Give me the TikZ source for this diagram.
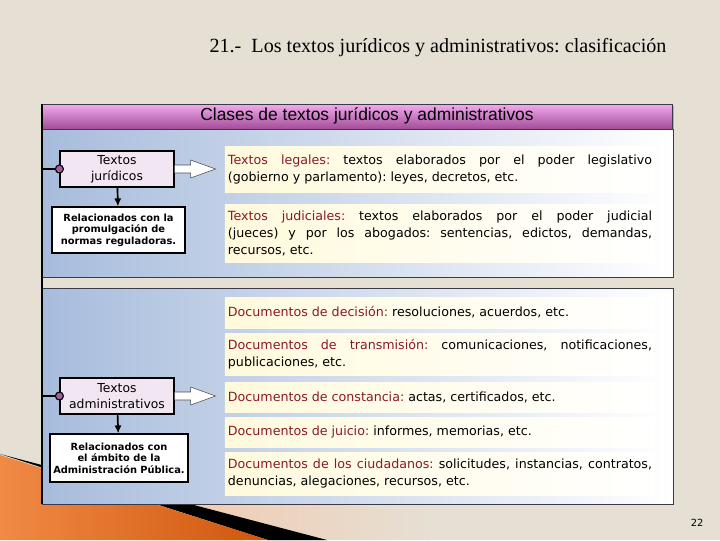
\documentclass[tikz,border=0pt]{standalone}
\usepackage{fontspec}
\newfontfamily\tahomaf{DejaVu Sans}
\newfontfamily\arialf{Liberation Sans}
\newfontfamily\timesf{Liberation Serif}
\usetikzlibrary{arrows.meta}
\frenchspacing

\definecolor{paper}{HTML}{E6DFD3}
\definecolor{swoosh}{HTML}{F08A45}
\definecolor{swooshdark}{HTML}{D0560C}
\definecolor{peach}{HTML}{F2C9AE}
\definecolor{panelblue}{HTML}{A7BCDC}
\definecolor{headtop}{HTML}{F2ABEE}
\definecolor{headbot}{HTML}{A24C98}
\definecolor{termred}{HTML}{8A1A2A}
\definecolor{cream}{HTML}{FFFADC}
\definecolor{lilac}{HTML}{F3E6F3}
\definecolor{knob}{HTML}{A45CA0}
\definecolor{framegray}{HTML}{3A3A48}

\newcommand{\termino}[1]{{\color{termred}#1}}

\tikzset{
  tipo/.style={draw, thick, fill=lilac, minimum width=2.85cm, minimum height=0.9cm,
    align=center, inner sep=0pt, font=\tahomaf\fontsize{8.8}{11.4}\selectfont},
  nota/.style={draw, thick, fill=white, align=center, inner sep=0pt,
    font=\tahomaf\bfseries\fontsize{7}{8.2}\selectfont},
  clase/.style={left color=cream, right color=white, text width=10.6cm, inner xsep=0.075cm,
    inner ysep=0pt, align=justify, font=\tahomaf\fontsize{9}{12}\selectfont},
  enlace/.style={draw, thick, fill=knob, circle, inner sep=0pt, minimum size=0.2cm},
  baja/.style={-{Latex[length=2mm,width=1.8mm]}, line width=1.2pt},
  hueca/.style={draw=gray!60!black, fill=white},
  panel/.style={draw=framegray, left color=panelblue, right color=white},
}

\begin{document}
\begin{tikzpicture}[x=0.025cm, y=-0.025cm]
    % Background
    \fill[paper] (0,0) rectangle (720,540);
    \useasboundingbox (0,0) rectangle (720,540);
    \shade[left color=peach, right color=paper] (150,490) -- (430,512) -- (430,540) -- (150,540) -- cycle;
    \fill[black] (0,454) -- (327,540) -- (268,540) -- cycle;
    \shade[left color=swoosh, right color=swooshdark] (0,455) -- (268,540) -- (0,540) -- cycle;

    % Title
    \node[font=\timesf\fontsize{14.3}{17}\selectfont] (titulo) at (438,48)
        {21.-\ \ Los textos jurídicos y administrativos: clasificación};

    % Header bar and panels
    \fill[gray!60] (44,106) rectangle (674,131);
    \shade[top color=headtop, bottom color=headbot, draw=framegray] (42,104) rectangle (672,129);
    \node[font=\arialf\fontsize{12.4}{14}\selectfont] (cabecera) at (367,116)
        {Clases de textos jurídicos y administrativos};
    \shade[panel] (42,129) rectangle (673,277);
    \shade[panel] (42,288) rectangle (673,504);
    \draw[line width=1.5pt] (42,104) -- (42,504);

    % Textos juridicos
    \node[tipo] (jur) at (117,169) {Textos\\jurídicos};
    \node[nota, minimum width=3.325cm, minimum height=1.15cm] (rel1) at (118.5,230)
        {Relacionados con la\\promulgación de\\normas reguladoras.};
    \node[enlace] (k1) at (jur.west) {};
    \coordinate (e1) at (42,169);
    \draw[line width=1.5pt] (e1) -- (k1);
    \draw[baja] (jur) -- (rel1);
    \draw[hueca] (jur.east) ++(0,-4) -- ++(16,0) -- ++(0,-5) -- ++(25,9) -- ++(-25,9)
        -- ++(0,-5) -- ++(-16,0) -- cycle;

    \node[clase, minimum height=1.125cm] (leg) at (440,169.5)
        {\termino{Textos legales:} textos elaborados por el poder legislativo\linebreak
         (gobierno y parlamento): leyes, decretos, etc.};
    \node[clase, minimum height=1.425cm] (jud) at (440,233.5)
        {\termino{Textos judiciales:} textos elaborados por el poder judicial\linebreak
         (jueces) y por los abogados: sentencias, edictos, demandas,\linebreak
         recursos, etc.};

    % Textos administrativos
    \node[tipo] (adm) at (117,396) {Textos\\administrativos};
    \node[nota, minimum width=3.45cm, minimum height=1.2cm] (rel2) at (119,458)
        {Relacionados con\\el ámbito de la\\Administración Pública.};
    \node[enlace] (k2) at (adm.west) {};
    \coordinate (e2) at (42,396);
    \draw[line width=1.5pt] (e2) -- (k2);
    \draw[baja] (adm) -- (rel2);
    \draw[hueca] (adm.east) ++(0,-4) -- ++(16,0) -- ++(0,-5) -- ++(25,9) -- ++(-25,9)
        -- ++(0,-5) -- ++(-16,0) -- cycle;

    \node[clase, minimum height=0.775cm] (dec) at (440,312.5)
        {\termino{Documentos de decisión:} resoluciones, acuerdos, etc.};
    \node[clase, minimum height=1.05cm] (tra) at (440,354)
        {\termino{Documentos de transmisión:} comunicaciones, notificaciones,\linebreak
         publicaciones, etc.};
    \node[clase, minimum height=0.75cm] (con) at (440,397)
        {\termino{Documentos de constancia:} actas, certificados, etc.};
    \node[clase, minimum height=0.75cm] (jui) at (440,432)
        {\termino{Documentos de juicio:} informes, memorias, etc.};
    \node[clase, minimum height=1.075cm] (ciu) at (440,473.5)
        {\termino{Documentos de los ciudadanos:} solicitudes, instancias, contratos,\linebreak
         denuncias, alegaciones, recursos, etc.};

    % Page number
    \node[font=\tahomaf\fontsize{7}{8}\selectfont] (pag) at (697,523) {22};
\end{tikzpicture}
\end{document}
